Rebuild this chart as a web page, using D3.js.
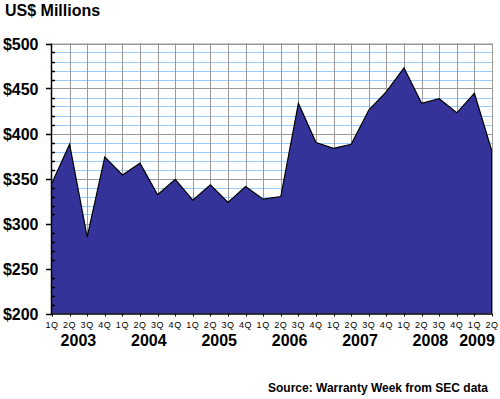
<!DOCTYPE html>
<html>
<head>
<meta charset="utf-8">
<script src="https://cdn.jsdelivr.net/npm/d3@7"></script>
<style>
  body { margin: 0; background: #fff; }
  text { font-family: Arial, "Liberation Sans", sans-serif; }
</style>
</head>
<body>
<div id="chart"></div>
<script>
// quarterly warranty spend, 1Q 2003 .. 2Q 2009
const QUARTERS = ['1Q','2Q','3Q','4Q','1Q','2Q','3Q','4Q','1Q','2Q','3Q','4Q','1Q','2Q','3Q','4Q',
                  '1Q','2Q','3Q','4Q','1Q','2Q','3Q','4Q','1Q','2Q'];
const YEARS = ['2003','2004','2005','2006','2007','2008','2009'];
const VALUES = [345, 388, 285, 374, 354, 367, 332, 349, 326, 343, 323.5, 341, 327, 330,
                433.5, 390, 383.5, 388, 426, 446.5, 473, 433.5, 438.7, 423, 444.7, 380];
const Y_TICKS = [200, 250, 300, 350, 400, 450, 500];

const WIDTH = 500, HEIGHT = 399;
const LEFT = 52, RIGHT = 492, TOP = 43.5, BOTTOM = 313.5;

const svg = d3.select('#chart').append('svg')
  .attr('width', WIDTH)
  .attr('height', HEIGHT);

const x = d3.scaleLinear().domain([0, VALUES.length - 1]).range([LEFT, RIGHT]);
const y = d3.scaleLinear().domain([200, 500]).range([BOTTOM, TOP]);

// minor grid (every $10) in light blue
const minor = d3.range(210, 500, 10).filter(v => v % 50 !== 0);
svg.append('g').selectAll('line')
  .data(minor).enter().append('line')
  .attr('x1', LEFT + 3).attr('x2', RIGHT)
  .attr('y1', d => Math.round(y(d)) + 0.5).attr('y2', d => Math.round(y(d)) + 0.5)
  .attr('stroke', '#99ccff');

// major grid
svg.append('g').selectAll('line')
  .data(Y_TICKS.slice(1)).enter().append('line')
  .attr('x1', LEFT).attr('x2', RIGHT)
  .attr('y1', d => Math.round(y(d)) + 0.5).attr('y2', d => Math.round(y(d)) + 0.5)
  .attr('stroke', '#999999');

svg.append('g').selectAll('line')
  .data(d3.range(1, VALUES.length)).enter().append('line')
  .attr('x1', d => Math.round(x(d)) + 0.5).attr('x2', d => Math.round(x(d)) + 0.5)
  .attr('y1', TOP).attr('y2', BOTTOM)
  .attr('stroke', '#999999');

// the area itself
const area = d3.area()
  .x((d, i) => x(i))
  .y0(y(200))
  .y1(d => y(d));
const line = d3.line()
  .x((d, i) => x(i))
  .y(d => y(d));

svg.append('path')
  .datum(VALUES)
  .attr('d', area)
  .attr('fill', '#333399');
svg.append('path')
  .datum(VALUES)
  .attr('d', line)
  .attr('fill', 'none')
  .attr('stroke', '#000')
  .attr('stroke-width', 1.2);
svg.append('line')
  .attr('x1', RIGHT - 0.5).attr('x2', RIGHT - 0.5)
  .attr('y1', y(VALUES[VALUES.length - 1])).attr('y2', BOTTOM)
  .attr('stroke', '#000');

// y axis
const yAxis = svg.append('g');
yAxis.append('line')
  .attr('x1', LEFT - 0.5).attr('x2', LEFT - 0.5)
  .attr('y1', TOP).attr('y2', BOTTOM + 1)
  .attr('stroke', '#000').attr('stroke-width', 1.5);
yAxis.selectAll('.major')
  .data(Y_TICKS).enter().append('line')
  .attr('x1', LEFT - 6).attr('x2', LEFT)
  .attr('y1', d => Math.round(y(d)) + 0.5).attr('y2', d => Math.round(y(d)) + 0.5)
  .attr('stroke', '#000').attr('stroke-width', 1.5);
yAxis.selectAll('.minor')
  .data(minor).enter().append('line')
  .attr('x1', LEFT).attr('x2', LEFT + 3)
  .attr('y1', d => Math.round(y(d)) + 0.5).attr('y2', d => Math.round(y(d)) + 0.5)
  .attr('stroke', '#000').attr('stroke-width', 1.5);
yAxis.selectAll('text')
  .data(Y_TICKS).enter().append('text')
  .attr('x', 38.5)
  .attr('y', d => y(d) + 6)
  .attr('text-anchor', 'end')
  .attr('font-size', '16px')
  .attr('font-weight', 'bold')
  .text(d => '$' + d);

// x axis
const xAxis = svg.append('g');
xAxis.append('line')
  .attr('x1', LEFT - 1).attr('x2', RIGHT)
  .attr('y1', BOTTOM + 0.5).attr('y2', BOTTOM + 0.5)
  .attr('stroke', '#000').attr('stroke-width', 1.5);
xAxis.selectAll('.tick')
  .data(QUARTERS).enter().append('line')
  .attr('x1', (d, i) => Math.round(x(i)) + 0.5).attr('x2', (d, i) => Math.round(x(i)) + 0.5)
  .attr('y1', BOTTOM).attr('y2', BOTTOM + 3)
  .attr('stroke', '#000');
xAxis.selectAll('.q')
  .data(QUARTERS).enter().append('text')
  .attr('x', (d, i) => x(i))
  .attr('y', 328)
  .attr('text-anchor', 'middle')
  .attr('font-size', '9px')
  .attr('letter-spacing', '0.6px')
  .text(d => d);
xAxis.selectAll('.yr')
  .data(YEARS).enter().append('text')
  .attr('x', (d, i) => {
    const first = i * 4, last = Math.min(i * 4 + 3, VALUES.length - 1);
    return Math.min((x(first) + x(last)) / 2, WIDTH - 23);
  })
  .attr('y', 346)
  .attr('text-anchor', 'middle')
  .attr('font-size', '16px')
  .attr('font-weight', 'bold')
  .text(d => d);

// plot frame (top and right)
svg.append('path')
  .attr('d', `M${LEFT},${TOP + 0.5}H${RIGHT + 0.5}V${y(VALUES[VALUES.length - 1])}`)
  .attr('fill', 'none')
  .attr('stroke', '#999999');

// titles
svg.append('text')
  .attr('x', 5).attr('y', 16)
  .attr('font-size', '16px')
  .attr('font-weight', 'bold')
  .text('US$ Millions');

svg.append('text')
  .attr('x', 488).attr('y', 392)
  .attr('text-anchor', 'end')
  .attr('font-size', '12.5px')
  .attr('font-weight', 'bold')
  .attr('textLength', 220)
  .attr('lengthAdjust', 'spacingAndGlyphs')
  .text('Source: Warranty Week from SEC data');
</script>
</body>
</html>
